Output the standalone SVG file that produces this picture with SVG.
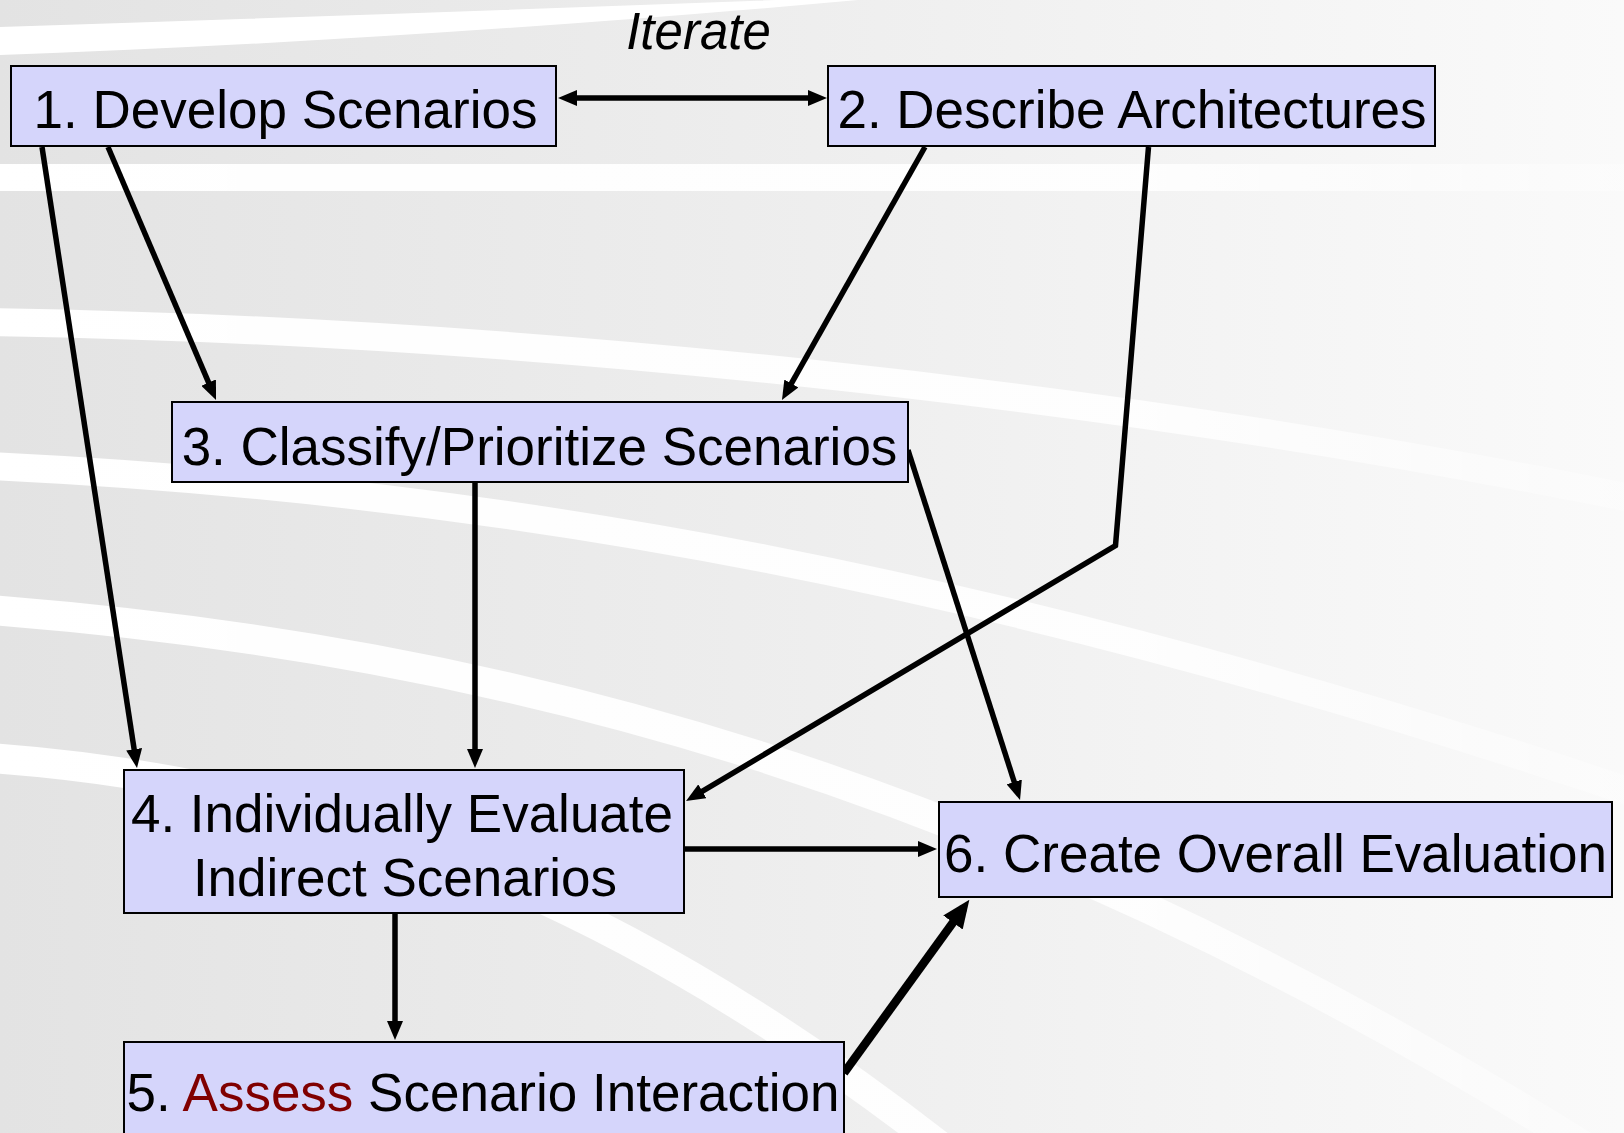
<svg xmlns="http://www.w3.org/2000/svg" width="1624" height="1133" viewBox="0 0 1624 1133">
  <style>
    .box { fill: #d5d5fb; stroke: #000; stroke-width: 2; }
    .t { font-family: "Liberation Sans", Arial, sans-serif; font-size: 53px; fill: #000; text-anchor: middle; }
    .it { font-family: "Liberation Sans", Arial, sans-serif; font-size: 51px; font-style: italic; fill: #000; text-anchor: middle; }
    .red { fill: #800000; }
    .c { fill: none; stroke: #000; stroke-width: 5.5; stroke-linejoin: miter; }
    .thick { stroke-width: 8.5; }
    .band { fill: none; stroke: url(#bandfade); stroke-width: 28; }
  </style>
  <defs>
    <linearGradient id="bg" x1="0" y1="0" x2="1" y2="0">
      <stop offset="0" stop-color="#e3e3e3"/>
      <stop offset="0.5" stop-color="#eeeeee"/>
      <stop offset="1" stop-color="#fafafa"/>
    </linearGradient>
    <linearGradient id="bandfade" gradientUnits="userSpaceOnUse" x1="0" y1="0" x2="1624" y2="0">
      <stop offset="0" stop-color="#ffffff" stop-opacity="1"/>
      <stop offset="0.7" stop-color="#ffffff" stop-opacity="0.9"/>
      <stop offset="1" stop-color="#ffffff" stop-opacity="0.3"/>
    </linearGradient>
    <marker id="ah" markerUnits="userSpaceOnUse" markerWidth="19" markerHeight="16" refX="11" refY="8" orient="auto-start-reverse">
      <path d="M0,0 L19,8 L0,16 Z" fill="#000"/>
    </marker>
    <marker id="ahBig" markerUnits="userSpaceOnUse" markerWidth="28" markerHeight="24" refX="18" refY="12" orient="auto">
      <path d="M0,0 L28,12 L0,24 Z" fill="#000"/>
    </marker>
  </defs>

  <g id="background">
    <rect x="0" y="0" width="1624" height="1133" fill="url(#bg)"/>
    <path d="M0,27 Q400,14 830,-2 L880,-2 Q420,40 0,55 Z" fill="#ffffff"/>
    <rect x="0" y="164" width="1624" height="27" fill="url(#bandfade)"/>
    <path class="band" d="M-10,322 C500,330 1100,390 1640,500"/>
    <path class="band" d="M-10,466 C500,490 1000,580 1640,795"/>
    <path class="band" style="stroke-width:30" d="M-10,610 C500,650 1000,780 1590,1150"/>
    <path class="band" style="stroke-width:30" d="M-10,758 C300,780 600,880 945,1150"/>
  </g>

  <g id="connectors">
    <line class="c" x1="566" y1="98" x2="819" y2="98" marker-start="url(#ah)" marker-end="url(#ah)"/>
    <line class="c" x1="108" y1="147" x2="212.9" y2="392.7" marker-end="url(#ah)"/>
    <line class="c" x1="42" y1="147" x2="135.8" y2="760.1" marker-end="url(#ah)"/>
    <line class="c" x1="925" y1="147" x2="785.9" y2="393.1" marker-end="url(#ah)"/>
    <polyline class="c" points="1148.5,147 1115.5,545.5 692.9,796.9" marker-end="url(#ah)"/>
    <line class="c" x1="475" y1="483" x2="475" y2="760" marker-end="url(#ah)"/>
    <line class="c" x1="908" y1="450" x2="1017.6" y2="792.4" marker-end="url(#ah)"/>
    <line class="c" x1="685" y1="849" x2="929" y2="849" marker-end="url(#ah)"/>
    <line class="c" x1="395" y1="914" x2="395" y2="1032" marker-end="url(#ah)"/>
    <line class="c thick" x1="844" y1="1073" x2="963.5" y2="907.9" marker-end="url(#ahBig)"/>
  </g>

  <text class="it" x="698.5" y="49">Iterate</text>

  <g id="n1">
    <rect class="box" x="11" y="66" width="545" height="80"/>
    <text class="t" x="285.5" y="128">1. Develop Scenarios</text>
  </g>
  <g id="n2">
    <rect class="box" x="828" y="66" width="607" height="80"/>
    <text class="t" x="1132" y="128">2. Describe Architectures</text>
  </g>
  <g id="n3">
    <rect class="box" x="172" y="402" width="736" height="80"/>
    <text class="t" x="539.5" y="465">3. Classify/Prioritize Scenarios</text>
  </g>
  <g id="n4">
    <rect class="box" x="124" y="770" width="560" height="143"/>
    <text class="t" x="402" y="832">4. Individually Evaluate</text>
    <text class="t" x="405" y="896">Indirect Scenarios</text>
  </g>
  <g id="n5">
    <rect class="box" x="124" y="1042" width="720" height="110"/>
    <text class="t" x="483" y="1111">5. <tspan class="red">Assess</tspan> Scenario Interaction</text>
  </g>
  <g id="n6">
    <rect class="box" x="939" y="802" width="673" height="95"/>
    <text class="t" x="1275.5" y="872">6. Create Overall Evaluation</text>
  </g>
</svg>
